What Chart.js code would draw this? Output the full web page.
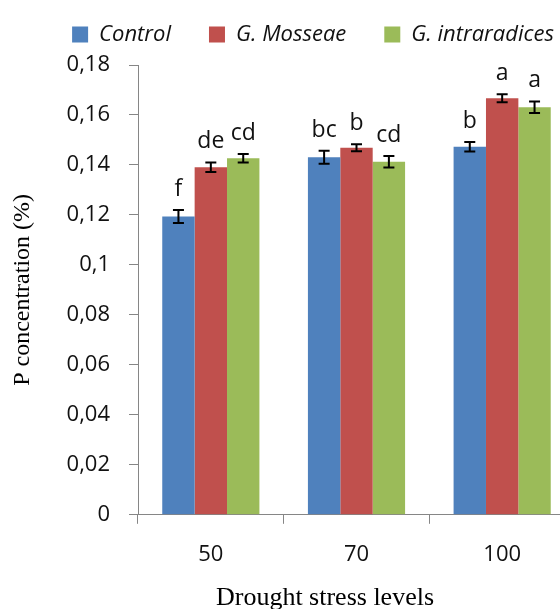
<!DOCTYPE html>
<html>
<head>
<meta charset="utf-8">
<title>P concentration</title>
<script src="https://cdn.jsdelivr.net/npm/chart.js@4.4.1/dist/chart.umd.min.js"></script>
<style>
  html, body { margin: 0; padding: 0; overflow: hidden; background: #fff; }
  canvas { display: block; }
</style>
</head>
<body>
<canvas id="myChart" width="580" height="609"></canvas>
<script>
'use strict';

let categories = ['50', '70', '100'];

let control = [0.1194, 0.1431, 0.1473];
let mosseae = [0.1391, 0.1469, 0.1667];
let intraradices = [0.1427, 0.1413, 0.1631];

let controlErr = [0.0026, 0.0026, 0.0019];
let mosseaeErr = [0.0019, 0.0014, 0.0016];
let intraradicesErr = [0.0017, 0.0023, 0.0023];

let controlLetters = ['f', 'bc', 'b'];
let mosseaeLetters = ['de', 'b', 'a'];
let intraradicesLetters = ['cd', 'cd', 'a'];

let yTicks = [0, 0.02, 0.04, 0.06, 0.08, 0.1, 0.12, 0.14, 0.16, 0.18];

let axisGrey = '#868686';
let textColor = '#111';

function formatTick(v) {
  return String(Math.round(v * 100) / 100).replace('.', ',');
}

// error bars + significance letters on top of each bar
const errorBars = {
  id: 'errorBars',
  afterDatasetsDraw(chart) {
    let ctx = chart.ctx;
    let y = chart.scales.y;
    ctx.save();
    chart.data.datasets.forEach(function (ds, i) {
      let meta = chart.getDatasetMeta(i);
      meta.data.forEach(function (bar, j) {
        let v = ds.data[j];
        let e = ds.errors[j];
        let top = y.getPixelForValue(v + e);
        let bot = y.getPixelForValue(v - e);
        ctx.strokeStyle = '#000';
        ctx.lineWidth = 2;
        ctx.beginPath();
        ctx.moveTo(bar.x, top);
        ctx.lineTo(bar.x, bot);
        ctx.moveTo(bar.x - 5.5, top);
        ctx.lineTo(bar.x + 5.5, top);
        ctx.moveTo(bar.x - 5.5, bot);
        ctx.lineTo(bar.x + 5.5, bot);
        ctx.stroke();

        ctx.fillStyle = textColor;
        ctx.font = '23px "Open Sans"';
        ctx.textAlign = 'center';
        ctx.textBaseline = 'alphabetic';
        ctx.fillText(ds.letters[j], bar.x, top - 14);
      });
    });
    ctx.restore();
  }
};

// legend sits a bit right of centre, x title too
const layoutTweaks = {
  id: 'layoutTweaks',
  beforeInit(chart) {
    let fit = chart.legend.fit;
    chart.legend.fit = function () {
      fit.call(this);
      this.height = 65;
    };
  },
  afterLayout(chart) {
    let lg = chart.legend;
    let dx = 313 - (lg.left + lg.right) / 2;
    lg.left += dx;
    lg.right += dx;
    lg.top = -14.5;
    let tb = chart.titleBlock;
    let tx = 325 - (tb.left + tb.right) / 2;
    tb.left += tx;
    tb.right += tx;
    tb.top += 5;
    tb.bottom += 5;
  }
};

let ctx = document.getElementById('myChart').getContext('2d');
let myChart = new Chart(ctx, {
  type: 'bar',
  data: {
    labels: categories,
    datasets: [
      { label: 'Control', data: control, errors: controlErr, letters: controlLetters, backgroundColor: '#4F81BD' },
      { label: 'G. Mosseae', data: mosseae, errors: mosseaeErr, letters: mosseaeLetters, backgroundColor: '#C0504D' },
      { label: 'G. intraradices', data: intraradices, errors: intraradicesErr, letters: intraradicesLetters, backgroundColor: '#9BBB59' }
    ]
  },
  options: {
    responsive: false,
    animation: false,
    devicePixelRatio: 1,
    layout: { padding: { left: 0, right: 5, top: 0, bottom: 0 } },
    datasets: {
      bar: { categoryPercentage: 0.667, barPercentage: 1, borderWidth: 0 }
    },
    plugins: {
      legend: {
        position: 'top',
        labels: {
          boxWidth: 16,
          boxHeight: 16,
          padding: 38,
          color: textColor,
          font: { family: 'Open Sans', size: 22, style: 'italic' }
        }
      },
      title: {
        display: true,
        position: 'bottom',
        text: 'Drought stress levels',
        color: '#000',
        font: { family: 'Liberation Serif', size: 26, weight: 'normal' },
        padding: { top: 0, bottom: 0 }
      },
      tooltip: { enabled: false }
    },
    scales: {
      x: {
        afterFit: function (scale) { scale.height = 63; },
        grid: { drawOnChartArea: false, tickLength: 9, color: axisGrey },
        border: { color: axisGrey },
        ticks: { color: textColor, padding: 18, font: { family: 'Open Sans', size: 22 } }
      },
      y: {
        min: 0,
        max: 0.18,
        afterFit: function (scale) { scale.width = 138; },
        afterBuildTicks: function (scale) {
          scale.ticks = yTicks.map(function (v) { return { value: v }; });
        },
        grid: { drawOnChartArea: false, tickLength: 9, color: axisGrey },
        border: { color: axisGrey },
        ticks: {
          color: textColor,
          padding: 19,
          font: { family: 'Open Sans', size: 22 },
          callback: formatTick
        },
        title: {
          display: true,
          text: 'P concentration (%)',
          color: '#000',
          font: { family: 'Liberation Serif', size: 24 },
          padding: { top: 8, bottom: 0 }
        }
      }
    }
  },
  plugins: [errorBars, layoutTweaks]
});
</script>
</body>
</html>
